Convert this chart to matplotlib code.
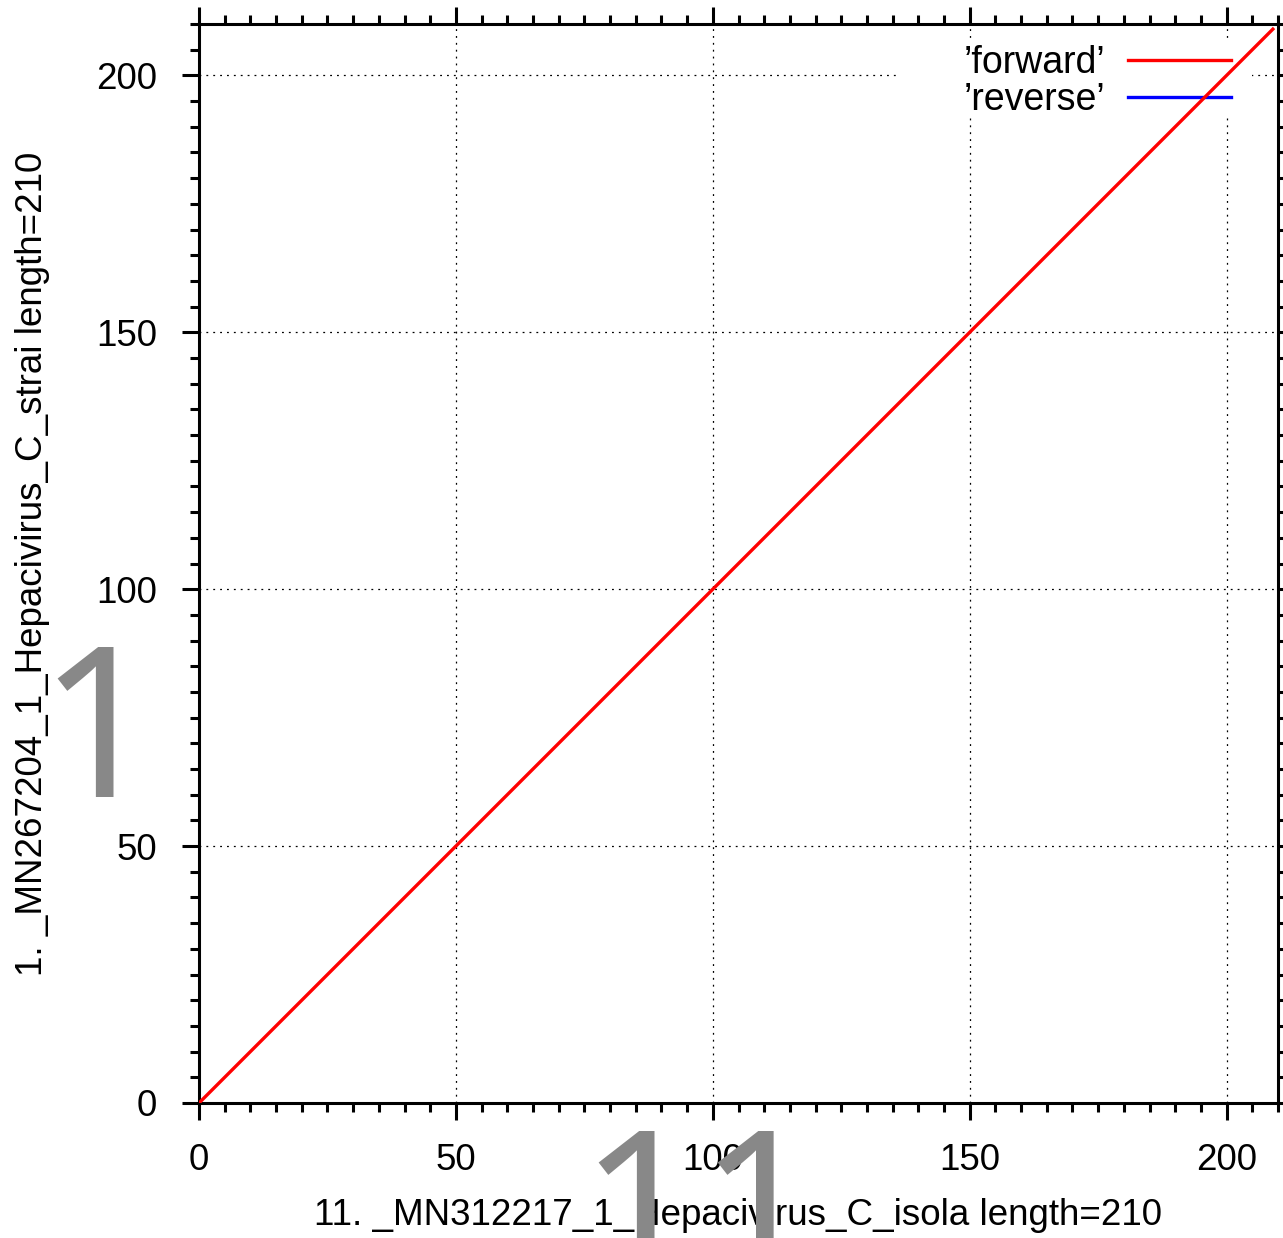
import matplotlib
matplotlib.use('Agg')
import matplotlib.pyplot as plt
from matplotlib.ticker import MultipleLocator
from matplotlib.patches import Rectangle
from matplotlib.font_manager import FontProperties
from matplotlib.textpath import TextPath

plt.rcParams['font.family'] = ['Liberation Sans', 'DejaVu Sans']

# dot plot data (only forward hits in this pair)
fwd_x = [0, 209]
fwd_y = [0, 209]
rev_x = []
rev_y = []

x_label = '11. _MN312217_1_Hepacivirus_C_isola length=210'
y_label = '1. _MN267204_1_Hepacivirus_C_strai length=210'
seq_len = 210
x_tag = '11'
y_tag = '1'

W, H = 1283, 1238
fig = plt.figure(figsize=(W / 100, H / 100), dpi=100)
ax = fig.add_axes([199 / W, (H - 1103) / H, 1079 / W, 1079 / H])

ax.plot(fwd_x, fwd_y, color='#ff0000', lw=2.4, label='\u2019forward\u2019', zorder=6)
ax.plot(rev_x, rev_y, color='#0000ff', lw=2.4, label='\u2019reverse\u2019', zorder=6)

ax.set_xlim(0, seq_len)
ax.set_ylim(0, seq_len)
ax.xaxis.set_major_locator(MultipleLocator(50))
ax.yaxis.set_major_locator(MultipleLocator(50))
ax.xaxis.set_minor_locator(MultipleLocator(5))
ax.yaxis.set_minor_locator(MultipleLocator(5))

ax.tick_params(which='both', direction='out', top=True, right=True, width=2.2)
ax.tick_params(which='major', length=12, labelsize=26.5)
ax.tick_params(which='minor', length=6.5)
ax.tick_params(axis='x', which='major', pad=17)
ax.tick_params(axis='y', which='major', pad=18)
for s in ax.spines.values():
    s.set_linewidth(2.2)

ax.grid(True, which='major', color='black', lw=0.9, linestyle=(0, (1.5, 4)))
ax.set_axisbelow(True)

ax.set_xlabel(x_label, fontsize=26.5, labelpad=14)
ax.set_ylabel(y_label, fontsize=26.5, labelpad=33)

# white block behind the key, like gnuplot's opaque key
ax.add_patch(Rectangle(((898 - 199) / 1079, (1103 - 115) / 1079), (1252 - 898) / 1079, 73 / 1079,
                       transform=ax.transAxes, facecolor='white', edgecolor='none', zorder=4))

leg = ax.legend(loc='upper right', bbox_to_anchor=((1231 - 199) / 1079, (1103 - 45) / 1079),
                frameon=False, fontsize=27, markerfirst=False, handlelength=2.75,
                handletextpad=0.6, labelspacing=0.02, borderaxespad=0, borderpad=0)
leg.set_zorder(5)
for t in leg.get_texts():
    t.set_ha('right')

# big gray sequence numbers; Liberation's large "1" has a foot, Noto's doesn't
tag_font = FontProperties(family='Noto Sans')
ext = TextPath((0, 0), '1', size=100, prop=tag_font).get_extents()
tag_size = 150 / (ext.height / 100) * 72 / 100   # digit ink ~150 px tall
lsb_px = ext.xmin / 100 * tag_size * 100 / 72     # left bearing in pixels

fig.text((57 - lsb_px) / W, 1 - 797 / H, y_tag, fontsize=tag_size, color='#888888',
         ha='left', va='baseline', fontproperties=tag_font)
fig.text((598 - lsb_px) / W, 1 - 1281 / H, x_tag, fontsize=tag_size, color='#888888',
         ha='left', va='baseline', fontproperties=tag_font)

fig.savefig('out.png', dpi=100)
